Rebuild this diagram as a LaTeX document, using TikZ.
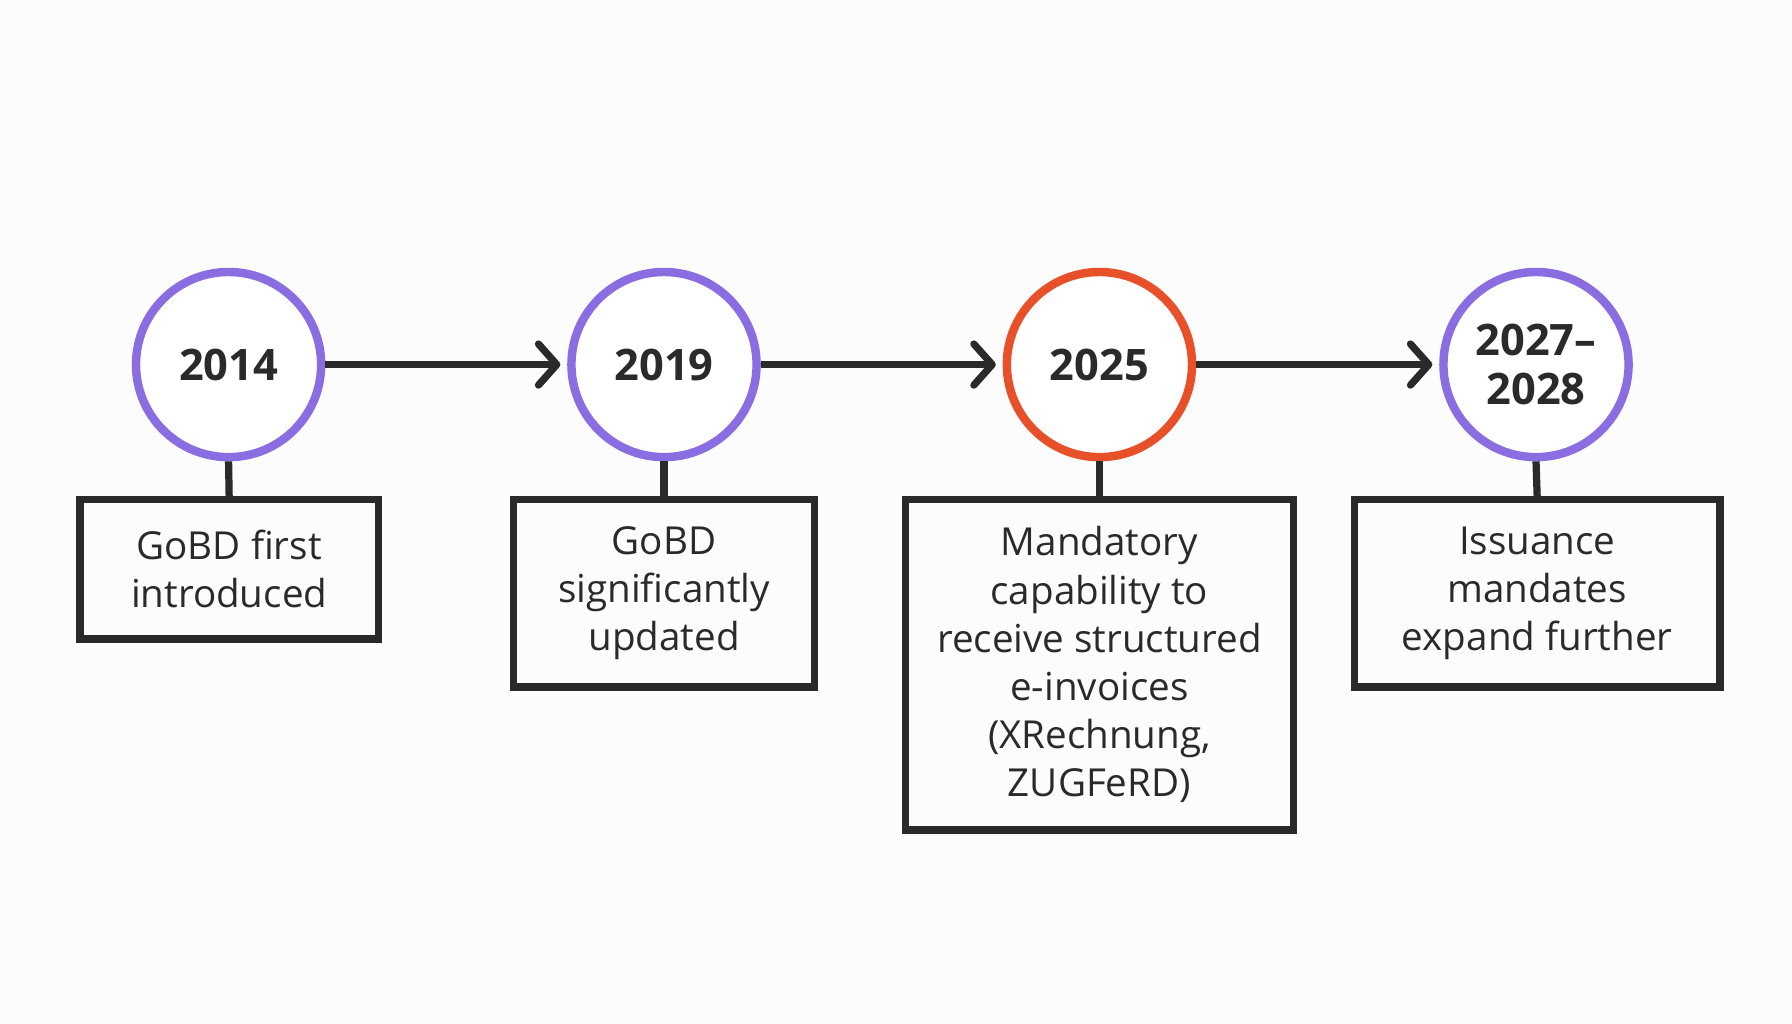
\documentclass[tikz,border=0pt]{standalone}
\usepackage{fontspec}
\setmainfont{Open Sans}
\usetikzlibrary{arrows.meta}
\definecolor{purp}{HTML}{8A6DE0}
\definecolor{oran}{HTML}{E8502A}
\definecolor{ink}{HTML}{2A2A2A}
\tikzset{
 yr/.style={circle,draw=purp,line width=2.1pt,minimum size=1.62cm,inner sep=0pt,font=\fontsize{10.8}{12.2}\selectfont\bfseries,text=ink,align=center,fill=white},
 yrhot/.style={yr,draw=oran},
 lbl/.style={draw=ink,line width=1.8pt,inner sep=0pt,font=\fontsize{9.6}{12}\selectfont,text=ink,align=center,anchor=north},
 conn/.style={draw=ink,line width=1.8pt},
 arr/.style={conn,-{Straight Barb[length=0.16cm,width=0.36cm,line width=1.8pt,line cap=round,line join=round]}}
}
\begin{document}
\begin{tikzpicture}[x=1cm,y=-1cm]
\useasboundingbox[fill=white!98!gray] (0,0) rectangle (15.68,8.96);
\node[yr] (c1) at (2.00,3.19) {2014};
\node[yr] (c2) at (5.81,3.19) {2019};
\node[yrhot] (c3) at (9.62,3.19) {2025};
\node[yr] (c4) at (13.44,3.19) {2027–\\2028};
\node[lbl,minimum width=2.61cm,minimum height=1.22cm] (b1) at (2.005,4.34) {GoBD first\\introduced};
\node[lbl,minimum width=2.64cm,minimum height=1.64cm] (b2) at (5.81,4.34) {GoBD\\significantly\\updated};
\node[lbl,minimum width=3.40cm,minimum height=2.89cm] (b3) at (9.62,4.34) {Mandatory\\capability to\\receive structured\\e-invoices\\(XRechnung,\\ZUGFeRD)};
\node[lbl,minimum width=3.20cm,minimum height=1.64cm] (b4) at (13.45,4.34) {Issuance\\mandates\\expand further};
\foreach \i in {1,...,4} \draw[conn] (c\i.south) -- (b\i.north);
\draw[arr] (c1.east) -- ([xshift=-0.06cm]c2.west);
\draw[arr] (c2.east) -- ([xshift=-0.06cm]c3.west);
\draw[arr] (c3.east) -- ([xshift=-0.06cm]c4.west);
\end{tikzpicture}
\end{document}
